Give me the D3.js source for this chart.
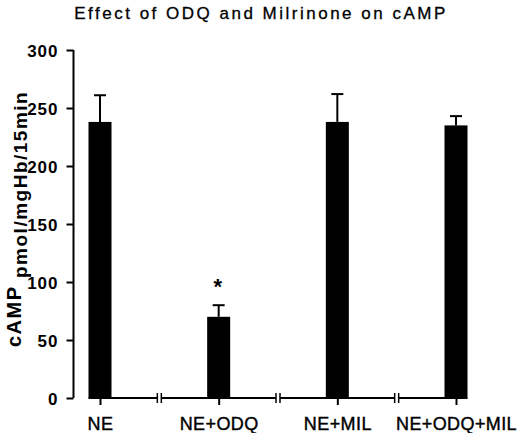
<!DOCTYPE html>
<html>
<head>
<meta charset="utf-8">
<script src="https://cdn.jsdelivr.net/npm/d3@7"></script>
<style>
  body { margin: 0; background: #fff; }
  svg text { font-family: "Liberation Sans", Arial, sans-serif; fill: #000; }
</style>
</head>
<body>
<div class="chart"></div>
<script>
  // Data
  const groups = ["NE", "NE+ODQ", "NE+MIL", "NE+ODQ+MIL"];
  const means = [238, 70, 238, 235];
  const errors = [23, 10, 24, 8];
  const significant = [false, true, false, false];
  const yTicks = [0, 50, 100, 150, 200, 250, 300];

  const width = 520;
  const height = 433;
  const barWidth = 23;

  const svg = d3.select(".chart")
    .append("svg")
    .attr("width", width)
    .attr("height", height);

  const x = d3.scalePoint()
    .domain(groups)
    .range([100, 456]);

  const y = d3.scaleLinear()
    .domain([0, 300])
    .range([398, 50]);

  // Title
  svg.append("text")
    .attr("x", 261)
    .attr("y", 19)
    .attr("text-anchor", "middle")
    .style("font-size", "17px")
    .style("letter-spacing", "2.5px")
    .style("stroke", "#000")
    .style("stroke-width", "0.3px")
    .text("Effect of ODQ and Milrinone on cAMP");

  // Y axis
  const yAxis = svg.append("g")
    .attr("transform", "translate(73.5,0)")
    .call(d3.axisLeft(y).tickValues(yTicks).tickSize(7).tickPadding(8));
  yAxis.select(".domain").attr("stroke-width", 2).attr("d", `M0,${y(300)}V${y(0)}`);
  yAxis.selectAll(".tick line").attr("stroke-width", 2);
  yAxis.selectAll(".tick text")
    .style("font-size", "17px")
    .style("letter-spacing", "1px")
    .style("font-weight", "bold")
    .attr("dy", "0.36em");

  // Y label: quantity, then units set a little lower
  svg.append("text")
    .attr("transform", "translate(21,347) rotate(-90)")
    .attr("text-anchor", "start")
    .style("font-size", "20px")
    .style("font-weight", "bold")
    .style("letter-spacing", "1.5px")
    .text("cAMP");
  svg.append("text")
    .attr("transform", "translate(27,278) rotate(-90)")
    .attr("text-anchor", "start")
    .style("font-size", "19px")
    .style("font-weight", "bold")
    .style("letter-spacing", "1.5px")
    .text("pmol/mgHb/15min");

  // Baseline with breaks between groups
  const step = x.step();
  const baseY = y(0);
  const gap = 2;
  const segments = groups.map((g, i) => {
    const left = i === 0 ? x(g) - barWidth / 2 : x(g) - step / 2 + gap;
    const right = i === groups.length - 1 ? x(g) + barWidth / 2 : x(g) + step / 2 - gap;
    return [left, right];
  });
  svg.append("g")
    .selectAll("line")
    .data(segments)
    .enter()
    .append("line")
    .attr("x1", d => d[0])
    .attr("x2", d => d[1])
    .attr("y1", baseY)
    .attr("y2", baseY)
    .attr("stroke", "#000")
    .attr("stroke-width", 2);

  const breaks = groups.slice(1).map(g => x(g) - step / 2);
  const breakG = svg.append("g");
  breaks.forEach(bx => {
    [-gap, gap].forEach(off => {
      breakG.append("line")
        .attr("x1", bx + off).attr("x2", bx + off)
        .attr("y1", baseY - 5).attr("y2", baseY + 5)
        .attr("stroke", "#000")
        .attr("stroke-width", 1.5);
    });
  });

  // X ticks and labels
  const xAxis = svg.append("g")
    .attr("transform", `translate(0,${baseY})`)
    .call(d3.axisBottom(x).tickSize(7).tickPadding(12));
  xAxis.select(".domain").remove();
  xAxis.selectAll(".tick line").attr("stroke-width", 2);
  xAxis.selectAll(".tick text")
    .style("font-size", "18px")
    .style("letter-spacing", "0.4px")
    .style("stroke", "#000")
    .style("stroke-width", "0.4px");

  // Error bars (upper only)
  const data = groups.map((g, i) => ({ g, mean: means[i], err: errors[i], sig: significant[i] }));

  svg.append("g")
    .selectAll("line")
    .data(data)
    .enter()
    .append("line")
    .attr("x1", d => x(d.g))
    .attr("x2", d => x(d.g))
    .attr("y1", d => y(d.mean))
    .attr("y2", d => y(d.mean + d.err))
    .attr("stroke", "#000")
    .attr("stroke-width", 2);

  svg.append("g")
    .selectAll("line")
    .data(data)
    .enter()
    .append("line")
    .attr("x1", d => x(d.g) - 6)
    .attr("x2", d => x(d.g) + 6)
    .attr("y1", d => y(d.mean + d.err))
    .attr("y2", d => y(d.mean + d.err))
    .attr("stroke", "#000")
    .attr("stroke-width", 2);

  // Bars
  svg.append("g")
    .selectAll("rect")
    .data(data)
    .enter()
    .append("rect")
    .attr("x", d => x(d.g) - barWidth / 2)
    .attr("y", d => y(d.mean))
    .attr("width", barWidth)
    .attr("height", d => y(0) - y(d.mean))
    .attr("fill", "#000");

  // Significance marks
  svg.append("g")
    .selectAll("text")
    .data(data.filter(d => d.sig))
    .enter()
    .append("text")
    .attr("x", d => x(d.g) - 1)
    .attr("y", d => y(d.mean + d.err) - 11)
    .attr("text-anchor", "middle")
    .style("font-size", "22px")
    .style("font-weight", "bold")
    .text("*");
</script>
</body>
</html>
